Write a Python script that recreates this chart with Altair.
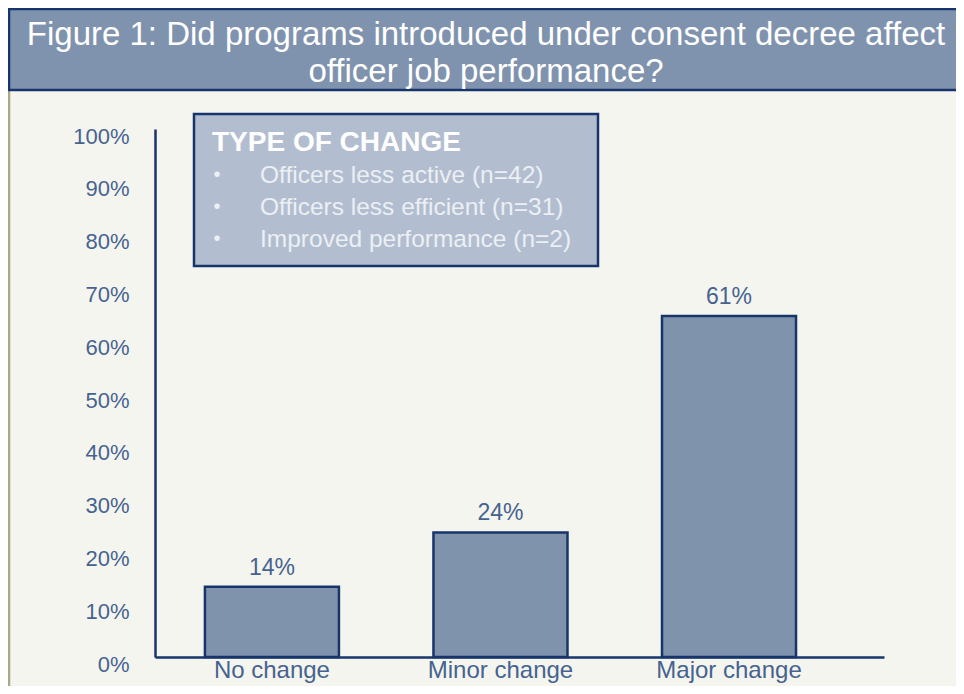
import altair as alt
import pandas as pd

# ---- data ----
categories = ["No change", "Minor change", "Major change"]
bar_values = [13.3, 23.6, 64.6]          # bar heights as drawn (percent)
bar_labels = ["14%", "24%", "61%"]       # printed data labels
y_ticks = [0, 10, 20, 30, 40, 50, 60, 70, 80, 90, 100]
title_lines = [
    "Figure 1: Did programs introduced under consent decree affect",
    "officer job performance?",
]
legend_title = "TYPE OF CHANGE"
legend_items = [
    "Officers less active (n=42)",
    "Officers less efficient (n=31)",
    "Improved performance (n=2)",
]

# ---- styles ----
FONT = "Liberation Sans, Arial, sans-serif"
NAVY = "#17346b"
BLUE = "#46638f"
BAR = "#8093ad"
HEAD = "#7f93ae"
LEG = "#b2bed0"
LEGTXT = "#eceff4"
CREAM = "#f5f5f0"
OLIVE = "#a9a98a"

df = pd.DataFrame({"category": categories, "value": bar_values, "label": bar_labels})
one = pd.DataFrame({"k": [0]})

x_enc = alt.X(
    "category:N",
    sort=categories,
    title=None,
    scale=alt.Scale(paddingInner=0.4136, paddingOuter=0.3017, align=0.362),
    axis=alt.Axis(
        labelAngle=0, labelFont=FONT, labelFontSize=24, labelColor=BLUE,
        ticks=False, tickSize=0, labelPadding=1, domainColor=NAVY,
        domainWidth=2.5, grid=False,
    ),
)
y_enc = alt.Y(
    "value:Q",
    title=None,
    scale=alt.Scale(domain=[0, 100], nice=False),
    axis=alt.Axis(
        values=y_ticks, labelExpr="datum.value + '%'", ticks=False, tickSize=0,
        labelPadding=26, labelOffset=7, labelFont=FONT, labelFontSize=22,
        labelColor=BLUE, domainColor=NAVY, domainWidth=2.5, grid=False,
    ),
)

olive = alt.Chart(one).mark_rule(color=OLIVE, strokeWidth=2.5).encode(
    x=alt.value(-146), y=alt.value(-38), y2=alt.value(560)
)
head = alt.Chart(one).mark_rect(fill=HEAD, stroke=NAVY, strokeWidth=2.5).encode(
    x=alt.value(-146), x2=alt.value(805), y=alt.value(-120), y2=alt.value(-39)
)
t1 = alt.Chart(one).mark_text(
    font=FONT, fontSize=33, color="white", align="center", baseline="alphabetic"
).encode(x=alt.value(331), y=alt.value(-84), text=alt.value(title_lines[0]))
t2 = alt.Chart(one).mark_text(
    font=FONT, fontSize=33, color="white", align="center", baseline="alphabetic"
).encode(x=alt.value(331), y=alt.value(-47), text=alt.value(title_lines[1]))

bars = alt.Chart(df).mark_bar(fill=BAR, stroke=NAVY, strokeWidth=2.5).encode(
    x=x_enc, y=y_enc
)
labels = alt.Chart(df).mark_text(
    dy=-12, baseline="alphabetic", font=FONT, fontSize=23, color=BLUE
).encode(x=alt.X("category:N", sort=categories), y="value:Q", text="label:N")

leg_box = alt.Chart(one).mark_rect(fill=LEG, stroke=NAVY, strokeWidth=2.5).encode(
    x=alt.value(39), x2=alt.value(443), y=alt.value(-15), y2=alt.value(137)
)
leg_title = alt.Chart(one).mark_text(
    font=FONT, fontSize=28, fontWeight="bold", color="white", align="left",
    baseline="alphabetic",
).encode(x=alt.value(57), y=alt.value(22), text=alt.value(legend_title))

layers = [olive, head, t1, t2, bars, labels, leg_box, leg_title]
for i, item in enumerate(legend_items):
    yb = 54 + 32 * i
    layers.append(
        alt.Chart(one).mark_text(
            font=FONT, fontSize=20, color=LEGTXT, align="center", baseline="alphabetic"
        ).encode(x=alt.value(62), y=alt.value(yb - 2), text=alt.value("•"))
    )
    layers.append(
        alt.Chart(one).mark_text(
            font=FONT, fontSize=24.5, color=LEGTXT, align="left", baseline="alphabetic"
        ).encode(x=alt.value(105), y=alt.value(yb), text=alt.value(item))
    )

chart = (
    alt.layer(*layers)
    .properties(
        width=729, height=528,
        padding={"left": 147, "top": 121, "right": 72, "bottom": 29},
        autosize=alt.AutoSizeParams(type="none"),
        background=CREAM,
    )
    .configure_view(stroke=None)
)

chart.save("out.html", embed_options={"renderer": "svg", "actions": False})
